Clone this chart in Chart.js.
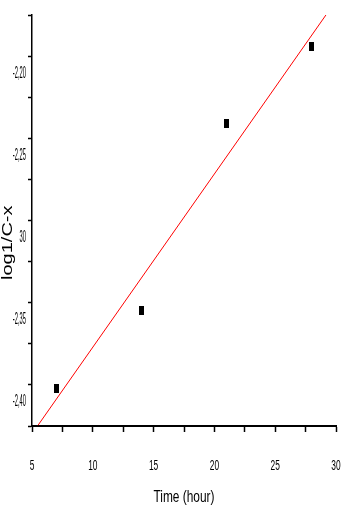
<!DOCTYPE html>
<html>
<head>
<meta charset="utf-8">
<script src="https://cdn.jsdelivr.net/npm/chart.js@4"></script>
<style>
  html, body { margin: 0; padding: 0; background: #fff; }
  #wrap { width: 342px; height: 512px; }
</style>
</head>
<body>
<div id="wrap"><canvas id="chart"></canvas></div>
<script>
// measured points
const timeHours = [7, 14, 21, 28]
const logValues = [-2.402, -2.355, -2.241, -2.194]

// fitted line, as drawn
const fitX = [5.5, 29.2]
const fitY = [-2.4245, -2.1747]

const xTicks = [5, 10, 15, 20, 25, 30]
const yTickValues = [-2.40, -2.35, -2.30, -2.25, -2.20]
const yTickLabels = ['-2,40', '-2,35', '30', '-2,25', '-2,20']

const FONT = "'Liberation Sans', Arial, sans-serif"

// the reference lettering is squashed sideways; squeeze factor per font size
const squeeze = { 16: 0.36, 15: 0.56, 17: 0.7, 20: 0.7 }
const origFillText = CanvasRenderingContext2D.prototype.fillText
CanvasRenderingContext2D.prototype.fillText = function (text, x, y, maxWidth) {
  const m = /(\d+(?:\.\d+)?)px/.exec(this.font)
  const f = m ? squeeze[Math.round(+m[1])] : undefined
  if (!f) return origFillText.apply(this, arguments)
  const T = this.getTransform()
  const px = T.a * x + T.c * y + T.e
  const py = T.b * x + T.d * y + T.f
  this.save()
  this.setTransform(
    new DOMMatrix().translate(px, py).scale(f, 1).translate(-px, -py).multiply(T)
  )
  if (maxWidth === undefined) origFillText.call(this, text, x, y)
  else origFillText.call(this, text, x, y, maxWidth)
  this.restore()
}

// small black bar marker
const marker = document.createElement('canvas')
marker.width = 5
marker.height = 9
const mctx = marker.getContext('2d')
mctx.fillStyle = '#000'
mctx.fillRect(0, 0, 5, 9)

const ctx = document.getElementById('chart').getContext('2d')

new Chart(ctx, {
  type: 'scatter',
  data: {
    datasets: [
      {
        label: 'data',
        data: timeHours.map((t, i) => ({ x: t, y: logValues[i] })),
        pointStyle: marker,
        pointRadius: 5,
        showLine: false,
      },
      {
        label: 'fit',
        data: fitX.map((t, i) => ({ x: t, y: fitY[i] })),
        showLine: true,
        borderColor: '#ff0000',
        borderWidth: 1,
        pointRadius: 0,
        fill: false,
      },
    ],
  },
  options: {
    responsive: true,
    maintainAspectRatio: false,
    animation: false,
    layout: { padding: { top: 15, right: 5, left: 0, bottom: 0 } },
    plugins: {
      legend: { display: false },
      tooltip: { enabled: false },
    },
    scales: {
      x: {
        type: 'linear',
        min: 5,
        max: 30,
        border: { color: '#000', width: 2 },
        grid: {
          drawOnChartArea: false,
          color: '#000',
          tickLength: 6,
          tickWidth: 1.5,
        },
        ticks: {
          stepSize: 2.5,
          autoSkip: false,
          maxRotation: 0,
          padding: 25,
          color: '#000',
          font: { family: FONT, size: 15 },
          callback: (v) => (xTicks.includes(v) ? String(v) : ''),
        },
        title: {
          display: true,
          text: 'Time (hour)',
          color: '#000',
          font: { family: FONT, size: 17 },
          padding: { top: 11 },
        },
        afterFit: (scale) => {
          scale.height = 86
          scale.paddingLeft = 0
          scale.paddingRight = 0
        },
      },
      y: {
        type: 'linear',
        min: -2.425,
        max: -2.175,
        border: { color: '#000', width: 1.5 },
        grid: {
          drawOnChartArea: false,
          color: '#000',
          tickLength: 4,
          tickWidth: 1.5,
        },
        ticks: {
          stepSize: 0.025,
          autoSkip: false,
          padding: 2,
          labelOffset: 17,
          color: '#000',
          font: { family: FONT, size: 16 },
          callback: (v) => {
            const i = yTickValues.findIndex((t) => Math.abs(t - v) < 1e-6)
            return i >= 0 ? yTickLabels[i] : ''
          },
        },
        title: {
          display: true,
          text: 'log1/C-x        ',
          color: '#000',
          font: { family: FONT, size: 20, lineHeight: 0.8 },
          padding: 0,
        },
        afterFit: (scale) => {
          scale.width = 32
          scale.paddingTop = 0
          scale.paddingBottom = 0
        },
      },
    },
  },
})
</script>
</body>
</html>
